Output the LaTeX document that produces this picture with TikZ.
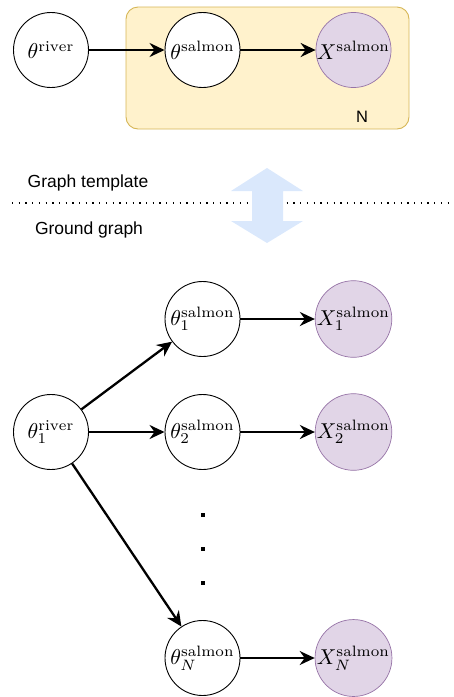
\documentclass[tikz,border=0pt]{standalone}
\usepackage{graphicx}
\usepackage{fontspec}
\setsansfont{Liberation Sans}
\usetikzlibrary{arrows.meta}
\definecolor{plateFill}{HTML}{FFF2CC}
\definecolor{plateDraw}{HTML}{D6B656}
\definecolor{obsFill}{HTML}{E1D5E7}
\definecolor{obsDraw}{HTML}{9673A6}
\definecolor{bigArrow}{HTML}{DAE8FC}
\newcommand\mlab[1]{\scalebox{2.15}{$#1$}}
\tikzset{
  var/.style={circle, draw=black, line width=0.9pt, fill=white, minimum size=75pt, inner sep=0pt},
  obs/.style={var, draw=obsDraw, fill=obsFill, line width=0.7pt},
  conn/.style={line width=2.3pt, -{Stealth[length=15pt, width=14pt, inset=5pt]}},
  lbl/.style={font=\sffamily\fontsize{17.5}{21}\selectfont, inner sep=0pt},
  vdot/.style={fill=black, minimum size=4pt, inner sep=0pt, rectangle}
}
\begin{document}
\begin{tikzpicture}[x=1pt, y=-1pt]
\useasboundingbox (0,0) rectangle (454,697);
% plate
\draw[plateDraw, fill=plateFill, line width=0.9pt, rounded corners=12pt] (126,7) rectangle (409,129);
\node[lbl, font=\sffamily\fontsize{16.5}{19}\selectfont] (Nlab) at (362,117) {N};
% template graph
\node[var] (tr) at (51,50) {\mlab{\theta^{\mathrm{river}}}};
\node[var] (ts) at (202.5,50) {\mlab{\theta^{\mathrm{salmon}}}};
\node[obs] (xs) at (353.5,50) {\mlab{X^{\mathrm{salmon}}}};
\draw[conn] (tr) -- (ts);
\draw[conn] (ts) -- (xs);
% separator
\coordinate (sepL) at (12,203);
\coordinate (sepR) at (453,203);
\draw[line width=1.3pt, dash pattern=on 1.3pt off 5.4pt] (sepL) -- (sepR);
\node[lbl] (gt) at (88,183) {Graph template};
\node[lbl] (gg) at (89,230) {Ground graph};
% double arrow
\fill[bigArrow] (231,191) -- (267,168) -- (303,191) -- (283,191) -- (283,221) -- (303,221)
  -- (267,243) -- (231,221) -- (252,221) -- (252,191) -- cycle;
% ground graph
\node[var] (r1) at (51,432) {\mlab{\theta_1^{\mathrm{river}}}};
\node[var] (s1) at (202.5,319) {\mlab{\theta_1^{\mathrm{salmon}}}};
\node[obs] (x1) at (353.5,319) {\mlab{X_1^{\mathrm{salmon}}}};
\node[var] (s2) at (202.5,432) {\mlab{\theta_2^{\mathrm{salmon}}}};
\node[obs] (x2) at (353.5,432) {\mlab{X_2^{\mathrm{salmon}}}};
\node[var] (sN) at (202.5,658) {\mlab{\theta_N^{\mathrm{salmon}}}};
\node[obs] (xN) at (353.5,658) {\mlab{X_N^{\mathrm{salmon}}}};
\draw[conn] (r1) -- (s1);
\draw[conn] (r1) -- (s2);
\draw[conn] (r1) -- (sN);
\draw[conn] (s1) -- (x1);
\draw[conn] (s2) -- (x2);
\draw[conn] (sN) -- (xN);
% dots
\node[vdot] (d1) at (202.5,515) {};
\node[vdot] (d2) at (202.5,549) {};
\node[vdot] (d3) at (202.5,583) {};
\end{tikzpicture}
\end{document}
